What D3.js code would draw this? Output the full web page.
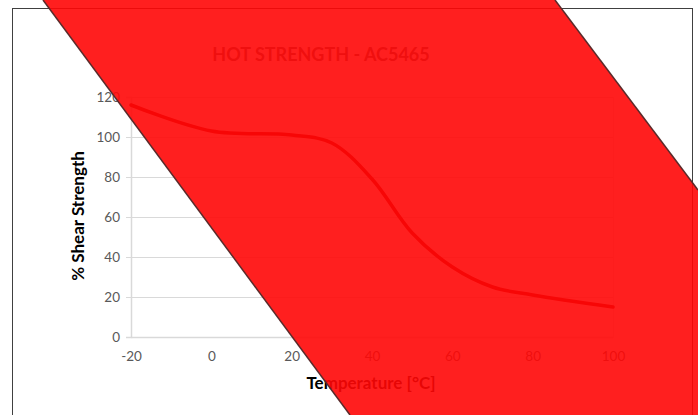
<!DOCTYPE html>
<meta charset="utf-8">
<style>
  body { margin: 0; background: #fff; }
  text { font-family: Lato, "Open Sans", sans-serif; }
</style>
<body>
<script src="https://cdn.jsdelivr.net/npm/d3@7"></script>
<script>
// chart values
var temperature = [-20, 0, 20, 30, 40, 50, 60, 70, 80, 100];
var shearStrength = [116, 103, 101, 97, 79, 52, 35, 25, 21, 15];
var xTicks = [-20, 0, 20, 40, 60, 80, 100];
var yTicks = [0, 20, 40, 60, 80, 100, 120];

var W = 698, H = 415;
var plot = {left: 131, right: 613, top: 97, bottom: 337};

var svg = d3.select("body").append("svg")
    .attr("width", W)
    .attr("height", H);

// chart frame
svg.append("rect")
    .attr("x", 12.5).attr("y", 8.5)
    .attr("width", 680).attr("height", 440)
    .attr("fill", "#fff")
    .attr("stroke", "#404040");

var x = d3.scaleLinear().domain([-20, 100]).range([plot.left, plot.right]);
var y = d3.scaleLinear().domain([0, 120]).range([plot.bottom, plot.top]);

// horizontal gridlines
svg.append("g")
    .selectAll("line")
    .data(yTicks.slice(1))
    .enter().append("line")
    .attr("x1", plot.left).attr("x2", plot.right)
    .attr("y1", function(d) { return Math.round(y(d)) + 0.5; })
    .attr("y2", function(d) { return Math.round(y(d)) + 0.5; })
    .attr("stroke", "#d9d9d9");

// right edge of plot area
svg.append("line")
    .attr("x1", plot.right + 0.5).attr("x2", plot.right + 0.5)
    .attr("y1", plot.top).attr("y2", plot.bottom)
    .attr("stroke", "#e6e6e6");

// axes (plain hyphen for negatives, like the original)
var fmt = function(d) { return String(d); };
var yAxis = svg.append("g")
    .attr("transform", "translate(" + plot.left + ",0)")
    .call(d3.axisLeft(y).tickValues(yTicks).tickFormat(fmt).tickSize(5).tickPadding(6));
var xAxis = svg.append("g")
    .attr("transform", "translate(0," + plot.bottom + ")")
    .call(d3.axisBottom(x).tickValues(xTicks).tickFormat(fmt).tickSize(0).tickPadding(14));

[xAxis, yAxis].forEach(function(a) {
  a.select(".domain").attr("stroke", "#d9d9d9").attr("stroke-width", 1.5);
  a.selectAll(".tick line").attr("stroke", "#d9d9d9");
  a.selectAll(".tick text")
      .attr("fill", "#595959")
      .style("font-size", "13.5px")
      .style("font-family", "Lato, sans-serif");
});

// the curve
var line = d3.line()
    .x(function(d, i) { return x(temperature[i]); })
    .y(function(d) { return y(d); })
    .curve(d3.curveCatmullRom.alpha(0.5));

svg.append("path")
    .datum(shearStrength)
    .attr("fill", "none")
    .attr("stroke", "#b00000")
    .attr("stroke-width", 3.5)
    .attr("stroke-linecap", "round")
    .attr("d", line);

// titles
svg.append("text")
    .attr("x", 321).attr("y", 61)
    .attr("text-anchor", "middle")
    .attr("fill", "#595959")
    .style("font-size", "18px")
    .style("font-weight", "bold")
    .text("HOT STRENGTH - AC5465");

svg.append("text")
    .attr("transform", "translate(84,216) rotate(-90)")
    .attr("text-anchor", "middle")
    .attr("fill", "#000")
    .style("font-size", "17px")
    .style("font-weight", "bold")
    .text("% Shear Strength");

svg.append("text")
    .attr("x", 371).attr("y", 389)
    .attr("text-anchor", "middle")
    .attr("fill", "#000")
    .style("font-size", "17px")
    .style("font-weight", "bold")
    .text("Temperature [°C]");

// red diagonal band laid over the chart
var band = [[43, 0], [555, 0], [698, 190], [698, 415], [350, 415]];
svg.append("path")
    .attr("d", d3.line()(band) + "Z")
    .attr("fill", "#ff0707")
    .attr("fill-opacity", 0.9);
svg.append("path")
    .attr("d", d3.line()([band[0], band[4]]))
    .attr("stroke", "#5a2a2a").attr("stroke-width", 1.5).attr("fill", "none");
svg.append("path")
    .attr("d", d3.line()([band[1], band[2]]))
    .attr("stroke", "#5a2a2a").attr("stroke-width", 1.5).attr("fill", "none");
</script>
</body>
